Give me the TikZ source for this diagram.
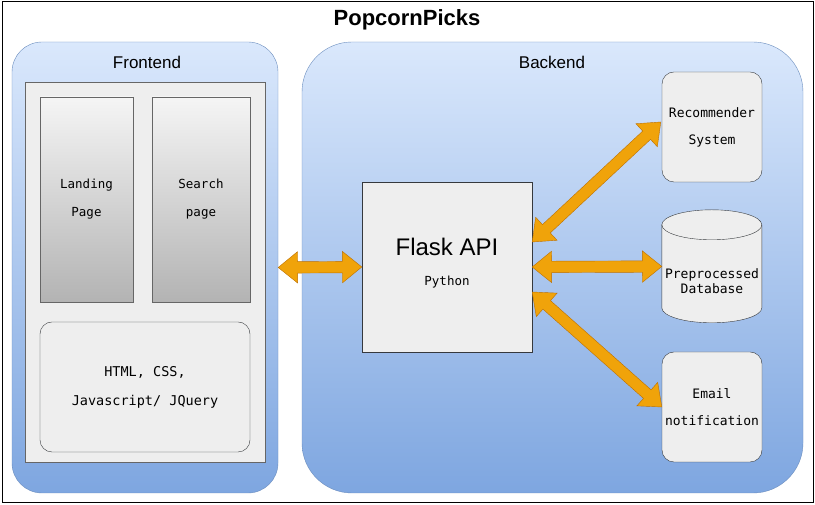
\documentclass[tikz,border=0pt]{standalone}
\usepackage{fontspec}
\setmainfont{Liberation Sans}
\newfontfamily\codefont{DejaVu Sans Mono}
\usepackage{tikz}
\usetikzlibrary{shapes.arrows,calc}

\definecolor{tierfill}{HTML}{DAE8FC}
\definecolor{tierdeep}{HTML}{7EA6E0}
\definecolor{tierline}{HTML}{6C8EBF}
\definecolor{boxfill}{HTML}{EEEEEE}
\definecolor{boxline}{HTML}{36393D}
\definecolor{pagetop}{HTML}{F5F5F5}
\definecolor{pagebot}{HTML}{B3B3B3}
\definecolor{linkfill}{HTML}{F0A30A}
\definecolor{linkline}{HTML}{BD7000}

\tikzset{
    tier/.style={draw=tierline, top color=tierfill, bottom color=tierdeep, inner sep=0},
    panel/.style={draw=black!60, fill=boxfill, inner sep=0},
    pagebox/.style={draw=black!60, top color=pagetop, bottom color=pagebot, inner sep=0,
        align=center, font=\codefont\fontsize{12.5}{28}\selectfont},
    softbox/.style={draw=boxline, fill=boxfill, rounded corners=12pt, inner sep=0,
        align=center, font=\codefont\fontsize{13}{27}\selectfont},
    link/.style={double arrow, draw=linkline, fill=linkfill, minimum width=31pt,
        double arrow head extend=10pt, double arrow tip angle=78, inner xsep=0, inner ysep=5.5pt,
        outer sep=0}
}
\newcommand{\bothways}[2]{\path let \p1=($(#2)-(#1)$), \n1={veclen(\x1,\y1)},
    \n2={atan2(\y1,\x1)} in node[link, minimum height=\n1, rotate=\n2] at ($(#1)!0.5!(#2)$) {};}

\begin{document}
\begin{tikzpicture}[x=1pt,y=1pt]
    \useasboundingbox (0,0) rectangle (815,505);
    \fill[white] (0,0) rectangle (815,505);
    \draw[black, line width=1pt] (2,2) rectangle (813,503);
    \node[font=\bfseries\fontsize{22}{26}\selectfont] (title) at (407,485) {PopcornPicks};

    \node[tier, rounded corners=30pt, minimum width=266pt, minimum height=451pt] (front) at (145,237.5) {};
    \node[font=\fontsize{17}{20}\selectfont] (frontlabel) at (147,443) {Frontend};
    \node[panel, minimum width=240pt, minimum height=380pt] (pane) at (145,233) {};
    \node[pagebox, minimum width=93pt, minimum height=205pt] (landing) at (86.5,305.5) {Landing\\Page};
    \node[pagebox, minimum width=98pt, minimum height=205pt] (search) at (201,305.5) {Search\\page};
    \node[softbox, minimum width=210pt, minimum height=130pt, font=\codefont\fontsize{13.5}{29}\selectfont]
        (markup) at (145,118) {HTML, CSS,\\Javascript/ JQuery};

    \node[tier, rounded corners=50pt, minimum width=501pt, minimum height=451pt] (back) at (552.5,237.5) {};
    \node[font=\fontsize{17}{20}\selectfont] (backlabel) at (552,443) {Backend};
    \node[draw=boxline, fill=boxfill, minimum width=170pt, minimum height=170pt] (flask) at (447,238) {};
    \node[font=\fontsize{24}{28}\selectfont] (flasklabel) at (447,258) {Flask API};
    \node[font=\codefont\fontsize{12.5}{14}\selectfont] (pylabel) at (447,223) {Python};

    \node[softbox, minimum width=100pt, minimum height=110pt] (rec) at (712,378) {Recommender\\System};
    \node[minimum width=100pt, minimum height=113pt, inner sep=0] (db) at (712,238.5) {};
    \filldraw[draw=boxline, fill=boxfill] (db.north west) ++(0,-15) -- ++(0,-83)
        arc[start angle=180, end angle=360, x radius=50, y radius=15] -- ++(0,83)
        arc[start angle=0, end angle=180, x radius=50, y radius=15] -- cycle;
    \draw[boxline] (db.north west) ++(0,-15) arc[start angle=180, end angle=360, x radius=50, y radius=15];
    \node[align=center, font=\codefont\fontsize{13}{15}\selectfont] (dblabel) at (712,223.5) {Preprocessed\\Database};
    \node[softbox, minimum width=100pt, minimum height=110pt] (mail) at (712,98) {Email\\notification};

    \coordinate (upper) at ($(flask.east)+(0,25)$);
    \coordinate (lower) at ($(flask.east)+(0,-25)$);
    \coordinate (recin) at ($(rec.west)+(-1,5)$);
    \bothways{front.east}{flask.west}
    \bothways{upper}{recin}
    \bothways{flask.east}{db.west}
    \bothways{lower}{mail.west}
\end{tikzpicture}
\end{document}
